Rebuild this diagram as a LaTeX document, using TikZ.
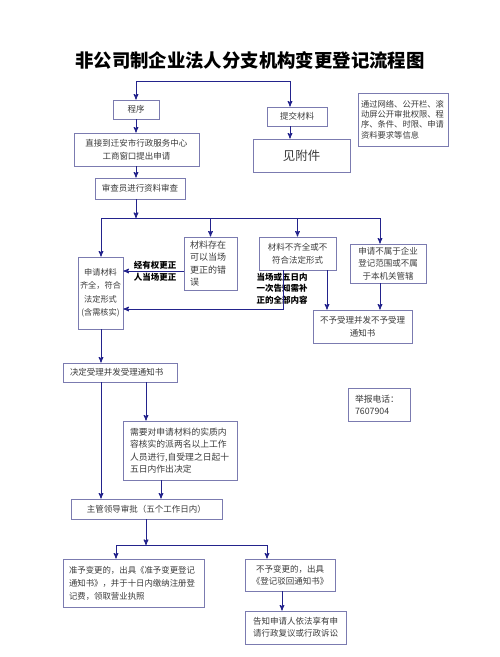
\documentclass[tikz,border=0pt]{standalone}
\usepackage{fontspec}
\setmainfont{Noto Sans CJK SC}
\usetikzlibrary{arrows}
\definecolor{linec}{HTML}{23238C}
\definecolor{boxc}{HTML}{7B7BB0}
\definecolor{textc}{HTML}{3A3A3A}
\tikzset{
  >=stealth',
  box/.style={draw=boxc, line width=0.9pt, inner xsep=3pt, inner ysep=1pt,
    text=textc, font=\fontsize{8.5}{12.5}\selectfont, align=center},
  flow/.style={draw=linec, line width=1pt},
  note/.style={text=black, font=\bfseries\fontsize{8.5}{11.5}\selectfont, align=center},
}

\begin{document}
\begin{tikzpicture}[x=1pt, y=-1pt]
  \useasboundingbox (0,0) rectangle (500,657);

  % title
  \node[font=\bfseries\fontsize{18.4}{20}\selectfont] (title) at (250,60) {非公司制企业法人分支机构变更登记流程图};

  % boxes
  \node[box, minimum height=19pt, text width=40pt] (prog) at (136,109.5) {程序};
  \node[box, minimum height=19pt, text width=54pt] (submit) at (297,116.5) {提交材料};
  \node[box, minimum height=33pt, text width=91pt, font=\fontsize{12.5}{14}\selectfont] (attach) at (301.5,155.5) {见附件};
  \node[box, minimum height=53pt, text width=84pt, align=left, font=\fontsize{8.3}{10.3}\selectfont] (info) at (403,119.5)
    {通过网络、公开栏、滚\\动屏公开审批权限、程\\序、条件、时限、申请\\资料要求等信息};
  \node[box, minimum height=33pt, text width=119pt] (apply) at (136.5,149.5) {直接到迁安市行政服务中心\\工商窗口提出申请};
  \node[box, minimum height=21pt, text width=84pt] (review) at (140,188.5) {审查员进行资料审查};
  \node[box, minimum height=72pt, inner xsep=2pt, text width=41pt, font=\fontsize{8.2}{13.5}\selectfont] (ok) at (100.5,293)
    {申请材料\\齐全，符合\\法定形式\\(含需核实)};
  \node[box, minimum height=53pt, inner xsep=6pt, text width=41pt, align=left, font=\fontsize{9}{12.5}\selectfont] (fix) at (210.5,263.5)
    {材料存在\\可以当场\\更正的错\\误};
  \node[box, minimum height=33pt, text width=71pt] (lack) at (297.5,253.5) {材料不齐全或不\\符合法定形式};
  \node[box, minimum height=39pt, text width=70pt] (out) at (388,263.5) {申请不属于企业\\登记范围或不属\\于本机关管辖};
  \node[box, minimum height=33pt, text width=93pt] (reject) at (362.5,326.5) {不予受理并发不予受理\\通知书};
  \node[box, minimum height=19pt, inner xsep=7pt, text width=100pt, align=left] (accept) at (120,372.5) {决定受理并发受理通知书};
  \node[box, minimum height=59pt, inner xsep=7pt, text width=100pt, align=left, font=\fontsize{8.8}{12.5}\selectfont] (verify) at (180,450.5)
    {需要对申请材料的实质内\\容核实的派两名以上工作\\人员进行,自受理之日起十\\五日内作出决定};
  \node[box, minimum height=33pt, inner xsep=7pt, text width=48pt, align=left, font=\fontsize{8.8}{12}\selectfont] (phone) at (379,404.5) {举报电话：\\7607904};
  \node[box, minimum height=20pt, text width=145pt] (approve) at (146.5,509) {主管领导审批（五个工作日内）};
  \node[box, minimum height=48pt, inner xsep=6pt, text width=129pt, align=left, font=\fontsize{8.4}{13}\selectfont] (grant) at (133.5,583)
    {准予变更的，出具《准予变更登记\\通知书》，并于十日内缴纳注册登\\记费，领取营业执照};
  \node[box, minimum height=32pt, text width=84pt] (deny) at (290,575) {不予变更的，出具\\《登记驳回通知书》};
  \node[box, minimum height=33pt, text width=95pt] (appeal) at (295.5,627.5) {告知申请人依法享有申\\请行政复议或行政诉讼};

  % labels on the returning arrows
  \node[note] (fixlab) at (155,271) {经有权更正\\人当场更正};
  \node[note] (lacklab) at (282,288.5) {当场或五日内\\一次告知需补\\正的全部内容};

  % helper points
  \coordinate (tl) at (136,81);
  \coordinate (tr) at (290,81);
  \coordinate (j1) at (136,218);
  \coordinate (jl) at (101,218);
  \coordinate (jr) at (380,218);
  \coordinate (m1) at (0,271);
  \coordinate (m2) at (283,309);
  \coordinate (m3) at (327,0);
  \coordinate (v) at (161,0);
  \coordinate (j2) at (146,545);
  \coordinate (bl) at (116,545);
  \coordinate (br) at (267,545);
  \coordinate (dx) at (282,0);

  % connectors
  \draw[flow] (tl) -- (tr);
  \draw[flow,->] (tl) -- (prog);
  \draw[flow,->] (tr) -- (submit.north -| tr);
  \draw[flow,->] (submit.south -| tr) -- (attach.north -| tr);
  \draw[flow,->] (prog.south) -- (apply.north -| prog.south);
  \draw[flow,->] (apply.south -| prog) -- (review.north -| prog);
  \draw[flow,->] (review.south -| j1) -- (j1);
  \draw[flow] (jl) -- (jr);
  \draw[flow,->] (jl) -- (ok.north -| jl);
  \draw[flow,->] (j1 -| fix) -- (fix);
  \draw[flow,->] (j1 -| lack) -- (lack);
  \draw[flow,->] (jr) -- (out.north -| jr);
  \draw[flow,->] (fix.west |- m1) -- (ok.east |- m1);
  \draw[flow,->] (lack.south -| m2) |- (ok.east |- m2);
  \draw[flow,->] (lack.south -| m3) -- (reject.north -| m3);
  \draw[flow,->] (out.south -| jr) -- (reject.north -| jr);
  \draw[flow,->] (ok.south -| jl) -- (accept.north -| jl);
  \draw[flow,->] (accept.south -| j2) -- (verify.north -| j2);
  \draw[flow,->] (accept.south -| jl) -- (approve.north -| jl);
  \draw[flow,->] (verify.south -| v) -- (approve.north -| v);
  \draw[flow,->] (approve.south -| j2) -- (j2);
  \draw[flow] (bl) -- (br);
  \draw[flow,->] (bl) -- (grant.north -| bl);
  \draw[flow,->] (br) -- (deny.north -| br);
  \draw[flow,->] (deny.south -| dx) -- (appeal.north -| dx);
\end{tikzpicture}
\end{document}
